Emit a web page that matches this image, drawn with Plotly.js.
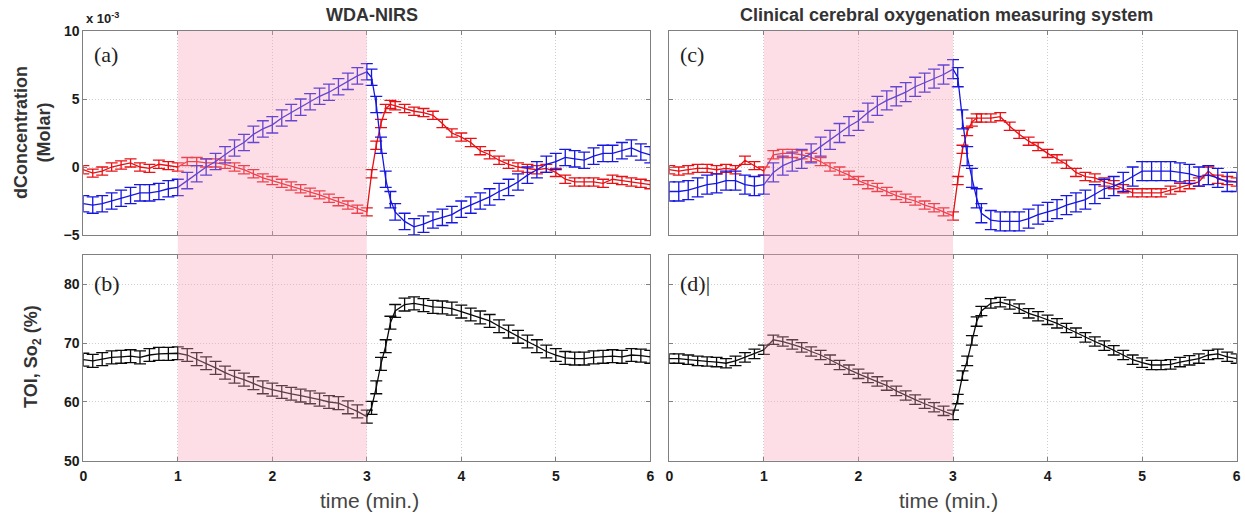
<!DOCTYPE html>
<html>
<head>
<meta charset="utf-8">
<script src="https://cdn.plot.ly/plotly-3.0.1.min.js"></script>
<style>html,body{margin:0;padding:0;background:#fff;}#chart{width:1245px;height:520px;}</style>
</head>
<body>
<div id="chart"></div>
<script>
// time axis (minutes)
const timeMin = [0,0.1,0.2,0.3,0.4,0.5,0.6,0.7,0.8,0.9,1.0,1.1,1.2,1.3,1.4,1.5,1.6,1.7,1.8,1.9,2.0,2.1,2.2,2.3,2.4,2.5,2.6,2.7,2.8,2.9,3.0,3.05,3.1,3.15,3.2,3.25,3.3,3.4,3.5,3.6,3.7,3.8,3.9,4.0,4.1,4.2,4.3,4.4,4.5,4.6,4.7,4.8,4.9,5.0,5.1,5.2,5.3,5.4,5.5,5.6,5.7,5.8,5.9,6.0];

// (a) WDA-NIRS concentration changes (x 10^-3 Molar)
const wdaRed = [-0.2,-0.45,-0.3,0.0,0.15,0.3,0.0,-0.1,0.2,0.1,0.0,
  0.4,0.4,0.3,0.3,0.2,0.0,-0.2,-0.5,-0.8,-1.0,
  -1.2,-1.4,-1.6,-1.85,-2.05,-2.3,-2.55,-2.8,-3.1,-3.3,
  -0.5,1.6,3.2,4.3,4.6,4.5,
  4.3,4.1,4.0,3.8,3.2,2.5,2.2,1.8,1.2,0.9,0.5,0.2,0.0,-0.1,-0.2,-0.1,-0.4,-0.9,-1.1,-1.1,-1.1,-1.2,-0.9,-1.0,-1.1,-1.2,-1.3];
const wdaBlue = [-2.7,-2.8,-2.7,-2.5,-2.3,-2.1,-1.9,-1.9,-1.8,-1.6,-1.5,
  -1.0,-0.5,0.0,0.4,0.9,1.4,1.8,2.4,2.8,3.1,
  3.6,4.0,4.4,4.8,5.2,5.5,5.9,6.3,6.7,7.0,
  6.6,4.6,1.6,-0.9,-2.4,-3.3,
  -4.0,-4.4,-4.2,-3.9,-3.7,-3.5,-3.1,-2.8,-2.5,-2.2,-1.8,-1.5,-1.1,-0.6,-0.2,0.2,0.4,0.7,0.6,0.5,0.8,1.0,1.0,1.2,1.4,1.1,0.9];

// (b) WDA-NIRS TOI (%)
const wdaToi = [67.2,67.0,67.3,67.6,67.7,67.8,67.6,68.0,68.2,68.2,68.3,
  68.0,67.3,66.6,65.8,65.0,64.3,63.8,63.2,62.5,62.1,
  61.7,61.4,61.1,60.8,60.4,60.0,59.8,59.1,58.4,57.5,
  59.0,62.5,66.5,69.5,73.5,75.5,
  76.6,76.8,76.5,76.2,76.1,75.9,75.4,74.9,74.4,73.8,72.9,72.0,71.1,70.3,69.5,68.6,68.0,67.5,67.4,67.4,67.6,67.7,67.8,67.7,68.0,67.9,67.7];

// (c) clinical system concentration changes (x 10^-3 Molar)
const clinRed = [-0.2,-0.3,-0.2,-0.1,-0.1,-0.2,-0.1,-0.2,0.5,0.1,-0.3,
  0.9,1.0,1.0,0.9,0.7,0.4,0.0,-0.3,-0.6,-1.0,
  -1.3,-1.5,-1.8,-2.1,-2.3,-2.5,-2.8,-3.0,-3.3,-3.6,
  -1.0,1.3,2.6,3.3,3.6,3.6,
  3.6,3.7,3.0,2.4,1.9,1.5,1.0,0.6,0.2,-0.4,-0.7,-0.8,-1.1,-1.3,-1.6,-1.9,-1.9,-1.9,-1.9,-1.7,-1.5,-1.3,-1.1,-0.3,-0.9,-1.0,-1.1];
const clinBlue = [-1.8,-1.8,-1.7,-1.5,-1.3,-1.2,-1.0,-1.0,-1.3,-1.4,-1.3,
  -0.4,0.1,0.4,0.6,1.0,1.5,2.0,2.5,3.0,3.4,
  4.0,4.5,4.9,5.2,5.5,5.9,6.2,6.5,6.8,7.2,
  6.6,3.5,0.8,-0.8,-2.3,-3.4,
  -3.9,-4.0,-4.0,-4.0,-3.8,-3.5,-3.3,-3.1,-2.8,-2.6,-2.4,-2.0,-1.6,-1.4,-1.1,-0.7,-0.3,-0.3,-0.3,-0.3,-0.4,-0.5,-0.7,-0.6,-0.8,-1.1,-1.1];

// (d) clinical system SO2 (%)
const clinSo2 = [67.4,67.4,67.2,67.0,66.9,66.8,66.6,67.0,67.6,68.2,68.9,
  70.6,70.3,69.8,69.3,68.6,68.0,67.2,66.3,65.5,64.8,
  64.1,63.5,62.8,61.9,61.1,60.4,59.7,59.1,58.5,57.8,
  60.5,64.5,67.0,70.5,73.7,75.5,
  76.8,77.0,76.6,75.9,75.1,74.6,74.0,73.4,72.6,71.8,71.0,70.3,69.6,68.8,68.0,67.2,66.7,66.3,66.3,66.4,66.8,67.1,67.4,68.0,68.2,67.7,67.4];

// error bar half-widths
const errWdaRed = 0.3, errWdaBlue = 0.6, errWdaToi = 1.1;
const errClinRed = 0.3, errClinBlue = 0.7, errClinSo2 = 0.8;

// stimulus window
const stimWindow = [1, 3];
const xTicks = [0,1,2,3,4,5,6];
const concTicks = [-5,0,5,10];
const pctTicks = [50,60,70,80];

const W = 1245, H = 520;
const px = v => v / W;
const py = v => 1 - v / H;

const RED = 'rgb(232,16,20)', BLUE = 'rgb(22,22,225)', BLACK = 'rgb(10,10,10)';

function tr(y, err, color, xa, ya) {
  return {
    x: timeMin, y: y, xaxis: xa, yaxis: ya, type: 'scatter', mode: 'lines',
    line: {color: color, width: 1.3},
    error_y: {type: 'constant', value: err, color: color, thickness: 1.3, width: 6},
    hoverinfo: 'skip', showlegend: false
  };
}

const data = [
  tr(wdaRed, errWdaRed, RED, 'x', 'y'),
  tr(wdaBlue, errWdaBlue, BLUE, 'x', 'y'),
  tr(clinRed, errClinRed, RED, 'x2', 'y2'),
  tr(clinBlue, errClinBlue, BLUE, 'x2', 'y2'),
  tr(wdaToi, errWdaToi, BLACK, 'x3', 'y3'),
  tr(clinSo2, errClinSo2, BLACK, 'x4', 'y4')
];

const tickFont = {family: 'Liberation Sans, Arial, sans-serif', size: 14, color: '#1a1a1a', weight: 'bold'};
function xax(domain, labels, anchor) {
  return {
    domain: domain, range: [0, 6], anchor: anchor, tickvals: xTicks, showticklabels: labels,
    ticks: 'inside', ticklen: 4, tickcolor: '#808080', showline: true, linecolor: '#808080', linewidth: 1,
    mirror: 'ticks', showgrid: true, gridcolor: '#cfcfcf', griddash: '1px,2px', gridwidth: 1,
    zeroline: false, tickfont: tickFont, ticklabelstandoff: 2
  };
}
function yax(domain, range, ticks, labels, anchor) {
  return {
    domain: domain, range: range, anchor: anchor, tickvals: ticks, showticklabels: labels,
    ticks: 'inside', ticklen: 4, tickcolor: '#808080', showline: true, linecolor: '#808080', linewidth: 1,
    mirror: 'ticks', showgrid: true, gridcolor: '#cfcfcf', griddash: '1px,2px', gridwidth: 1,
    zeroline: false, tickfont: tickFont
  };
}

const xL = [px(83.3), px(650.3)], xR = [px(669.3), px(1236.7)];
const yT = [py(235), py(31)], yB = [py(460.7), py(255.2)];

const ann = (x, y, text, font, extra) => Object.assign({
  xref: 'paper', yref: 'paper', x: px(x), y: py(y), text: text, showarrow: false, font: font,
  xanchor: 'center', yanchor: 'middle'
}, extra || {});

const titleFont = {family: 'Liberation Sans, Arial, sans-serif', size: 18, color: '#333'};
const yTitleFont = {family: 'Liberation Sans, Arial, sans-serif', size: 18, color: '#333'};
const labFont = {family: 'Liberation Serif, DejaVu Serif, serif', size: 22, color: '#222'};
const timeFont = {family: 'Liberation Sans, Arial, sans-serif', size: 21, color: '#444'};

const layout = {
  width: W, height: H, margin: {l: 0, r: 0, t: 0, b: 0}, paper_bgcolor: '#fff', plot_bgcolor: '#fff',
  showlegend: false,
  xaxis: xax(xL, false, 'y'), yaxis: yax(yT, [-5, 10], concTicks, true, 'x'),
  xaxis2: xax(xR, false, 'y2'), yaxis2: yax(yT, [-5, 10], concTicks, false, 'x2'),
  xaxis3: xax(xL, true, 'y3'), yaxis3: yax(yB, [50, 85], pctTicks, true, 'x3'),
  xaxis4: xax(xR, true, 'y4'), yaxis4: yax(yB, [50, 85], pctTicks, false, 'x4'),
  shapes: [
    {type: 'rect', xref: 'x', yref: 'paper', x0: stimWindow[0], x1: stimWindow[1], y0: yB[0], y1: yT[1],
     fillcolor: 'rgb(250,160,185)', opacity: 0.35, line: {width: 0}, layer: 'above'},
    {type: 'rect', xref: 'x2', yref: 'paper', x0: stimWindow[0], x1: stimWindow[1], y0: yB[0], y1: yT[1],
     fillcolor: 'rgb(250,160,185)', opacity: 0.35, line: {width: 0}, layer: 'above'}
  ],
  annotations: [
    ann(372, 15, '<b>WDA-NIRS</b>', titleFont),
    ann(946, 15, '<b>Clinical cerebral oxygenation measuring system</b>', titleFont),
    ann(84, 18, '<b>x 10<sup>-3</sup></b>', {family: 'Liberation Sans, Arial, sans-serif', size: 13, color: '#222'}, {xanchor: 'left'}),
    ann(32, 133, '<b>dConcentration<br>(Molar)</b>', yTitleFont, {textangle: -90}),
    ann(32, 357, '<b>TOI, So<sub>2</sub> (%)</b>', yTitleFont, {textangle: -90}),
    ann(370, 500, 'time (min.)', timeFont),
    ann(948, 500, 'time (min.)', timeFont),
    ann(92, 55, '(a)', labFont, {xanchor: 'left'}),
    ann(92, 283, '(b)', labFont, {xanchor: 'left'}),
    ann(678, 55, '(c)', labFont, {xanchor: 'left'}),
    ann(678, 283, '(d)|', labFont, {xanchor: 'left'})
  ]
};

Plotly.newPlot('chart', data, layout, {staticPlot: true, displayModeBar: false});
</script>
</body>
</html>
